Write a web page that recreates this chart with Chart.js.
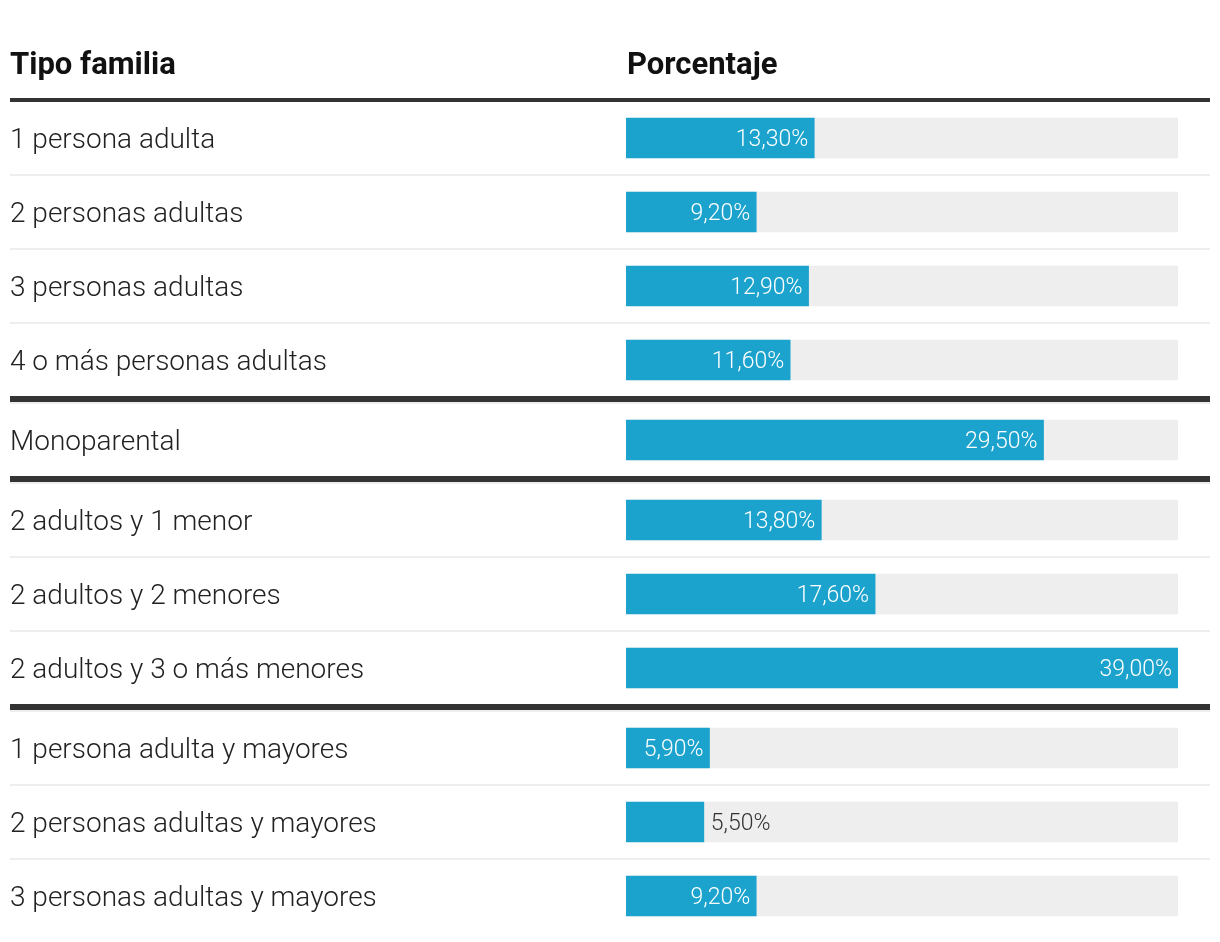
<!DOCTYPE html>
<html>
<head>
<meta charset="utf-8">
<script src="https://cdn.jsdelivr.net/npm/chart.js@4.4.0/dist/chart.umd.min.js"></script>
<style>
  body { margin: 0; background: #fff; }
  #wrap { width: 1220px; height: 942px; }
</style>
</head>
<body>
<div id="wrap"><canvas id="myChart"></canvas></div>
<script>
const headers = ['Tipo familia', 'Porcentaje'];
const categories = [
    '1 persona adulta',
    '2 personas adultas',
    '3 personas adultas',
    '4 o más personas adultas',
    'Monoparental',
    '2 adultos y 1 menor',
    '2 adultos y 2 menores',
    '2 adultos y 3 o más menores',
    '1 persona adulta y mayores',
    '2 personas adultas y mayores',
    '3 personas adultas y mayores'
];
const values = [13.3, 9.2, 12.9, 11.6, 29.5, 13.8, 17.6, 39.0, 5.9, 5.5, 9.2];
const groups = [0, 0, 0, 0, 1, 2, 2, 2, 3, 3, 3];

const ROW = 74;   // row height in px
const GAP = 6;    // extra space at a group break, px
const maxVal = Math.max(...values);
const positions = categories.map((c, i) => i + groups[i] * GAP / ROW);
const fmt = v => v.toFixed(2).replace('.', ',') + '%';

const tablePlugin = {
    id: 'table',
    afterDraw: (chart) => {
        const ctx = chart.ctx;
        const y = chart.scales.y;
        const x = chart.scales.x;
        ctx.save();

        // header
        ctx.fillStyle = '#111';
        ctx.font = 'bold 31px Roboto';
        ctx.textBaseline = 'middle';
        ctx.textAlign = 'left';
        ctx.fillText(headers[0], 10, 66);
        ctx.fillText(headers[1], 627, 66);
        ctx.fillStyle = '#333';
        ctx.fillRect(10, 98, 1200, 4);

        positions.forEach((p, i) => {
            const cy = y.getPixelForValue(p);
            // separators
            if (i < positions.length - 1) {
                if (groups[i + 1] !== groups[i]) {
                    const ny = y.getPixelForValue(positions[i + 1]);
                    ctx.fillStyle = '#333';
                    ctx.fillRect(10, ny - 44, 1200, 6);
                    ctx.fillStyle = '#eee';
                    ctx.fillRect(10, ny - 38, 1200, 2);
                } else {
                    ctx.fillStyle = '#eee';
                    ctx.fillRect(10, cy + 36, 1200, 2);
                }
            }
            // row label
            ctx.fillStyle = '#222';
            ctx.font = '300 28px Roboto';
            ctx.textAlign = 'left';
            ctx.fillText(categories[i], 10, cy + 3);

            // value label
            const end = x.getPixelForValue(values[i]);
            ctx.font = '300 23px Roboto';
            if (values[i] / maxVal >= 0.15) {
                ctx.fillStyle = '#fff';
                ctx.textAlign = 'right';
                ctx.fillText(fmt(values[i]), end - 6, cy + 2);
            } else {
                ctx.fillStyle = '#333';
                ctx.textAlign = 'left';
                ctx.fillText(fmt(values[i]), end + 7, cy + 2);
            }
        });
        ctx.restore();
    }
};

const ctx = document.getElementById('myChart').getContext('2d');
const myChart = new Chart(ctx, {
    type: 'bar',
    data: {
        datasets: [{
            data: values.map((v, i) => ({ x: v, y: positions[i] })),
            backgroundColor: '#1ba3ce',
            barThickness: 40,
            order: 0
        }, {
            data: values.map((v, i) => ({ x: maxVal, y: positions[i] })),
            backgroundColor: '#eeeeee',
            barThickness: 40,
            order: 1
        }]
    },
    options: {
        indexAxis: 'y',
        responsive: true,
        maintainAspectRatio: false,
        animation: false,
        datasets: { bar: { grouped: false } },
        layout: {
            padding: { left: 626, right: 42, top: 101, bottom: 9 }
        },
        scales: {
            x: { type: 'linear', min: 0, max: maxVal, display: false, offset: false },
            y: {
                type: 'linear',
                reverse: true,
                offset: false,
                min: -0.5,
                max: positions[positions.length - 1] + 0.5,
                display: false
            }
        },
        plugins: {
            legend: { display: false },
            tooltip: { enabled: false }
        }
    },
    plugins: [tablePlugin]
});
</script>
</body>
</html>
